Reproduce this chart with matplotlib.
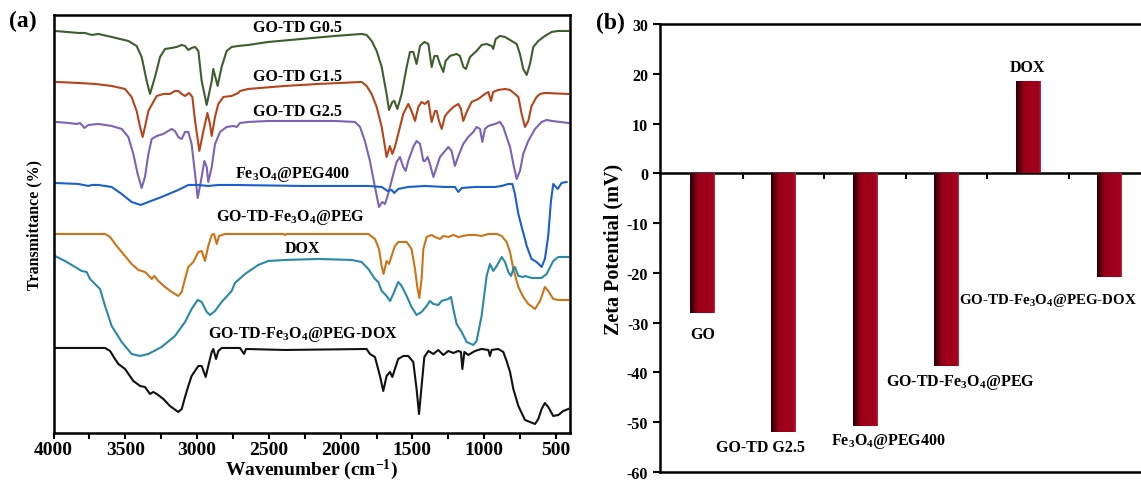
import numpy as np
import matplotlib
matplotlib.use("Agg")
import matplotlib.pyplot as plt
from matplotlib.colors import LinearSegmentedColormap

plt.rcParams['font.family'] = ['Liberation Serif', 'DejaVu Serif']
plt.rcParams['font.weight'] = 'bold'
plt.rcParams['mathtext.fontset'] = 'custom'
plt.rcParams['mathtext.rm'] = 'Liberation Serif:bold'
plt.rcParams['mathtext.it'] = 'Liberation Serif:bold'
plt.rcParams['mathtext.bf'] = 'Liberation Serif:bold'
plt.rcParams['axes.unicode_minus'] = False

# ---- FTIR spectra (wavenumber in cm-1, transmittance in a.u., stacked) ----
g05_wn = [3990, 3827, 3781, 3734, 3688, 3595, 3479, 3421, 3386, 3351, 3328, 3293, 3258, 3223, 3177,
          3142, 3107, 3084, 3061, 3038, 3014, 2991, 2968, 2933, 2898, 2887, 2857, 2829, 2794, 2759,
          2713, 2643, 2504, 2272, 2039, 1854, 1819, 1784, 1749, 1714, 1680, 1663, 1640, 1626, 1605,
          1575, 1540, 1517, 1494, 1471, 1447, 1417, 1389, 1366, 1347, 1327, 1308, 1285, 1269, 1238,
          1192, 1169, 1145, 1127, 1099, 1053, 1018, 983, 948, 937, 920, 890, 855, 809, 774, 751,
          728, 704, 681, 658, 623, 577, 530, 484, 414]
g05_t = [402, 400, 400, 398, 399, 396, 392, 387, 376, 352, 339, 356, 376, 384, 385,
         386, 388, 387, 383, 385, 386, 382, 352, 328, 352, 364, 347, 366, 382, 386,
         387, 388, 391, 394, 397, 399, 398, 392, 382, 366, 339, 323, 331, 332, 324,
         339, 366, 381, 381, 369, 387, 391, 389, 366, 377, 377, 369, 361, 372, 377,
         379, 377, 366, 364, 376, 382, 388, 389, 387, 384, 394, 397, 396, 392, 389, 379,
         364, 358, 369, 386, 392, 397, 401, 402, 402]

g15_wn = [3978, 3827, 3711, 3595, 3502, 3456, 3421, 3397, 3379, 3363, 3339, 3305, 3281, 3235, 3189,
          3154, 3131, 3107, 3084, 3056, 3033, 3014, 2984, 2956, 2928, 2910, 2898, 2875, 2852, 2817,
          2759, 2713, 2701, 2643, 2388, 2156, 1854, 1819, 1784, 1749, 1714, 1691, 1680, 1657, 1640,
          1622, 1599, 1564, 1529, 1506, 1482, 1459, 1436, 1413, 1389, 1366, 1343, 1331, 1315, 1296,
          1273, 1250, 1215, 1180, 1162, 1146, 1122, 1088, 1041, 995, 971, 953, 937, 902, 855, 820,
          786, 762, 739, 716, 693, 670, 635, 611, 577, 414]
g15_t = [351, 350, 349, 347, 344, 336, 322, 306, 296, 306, 322, 331, 337, 339, 339,
         342, 342, 339, 337, 340, 336, 312, 282, 302, 320, 309, 297, 316, 329, 336,
         337, 340, 342, 344, 347, 349, 351, 347, 339, 326, 306, 286, 276, 287, 279,
         286, 299, 319, 329, 322, 312, 326, 331, 329, 332, 311, 322, 322, 312, 304,
         317, 321, 326, 329, 324, 312, 321, 331, 334, 339, 341, 332, 341, 343, 344, 343,
         339, 336, 319, 306, 312, 327, 336, 339, 340, 339]

g25_wn = [3978, 3897, 3839, 3815, 3785, 3757, 3688, 3595, 3525, 3479, 3444, 3414, 3386, 3363, 3339,
          3316, 3281, 3235, 3212, 3177, 3154, 3131, 3107, 3084, 3061, 3038, 3014, 2996, 2973, 2949,
          2933, 2922, 2898, 2875, 2840, 2794, 2748, 2724, 2701, 2643, 2504, 2272, 2039, 1900, 1865,
          1831, 1796, 1761, 1733, 1710, 1691, 1673, 1656, 1633, 1610, 1587, 1564, 1547, 1529, 1494,
          1471, 1447, 1424, 1412, 1394, 1378, 1354, 1331, 1308, 1273, 1250, 1227, 1204, 1180, 1146,
          1111, 1076, 1053, 1029, 1013, 995, 971, 925, 890, 867, 844, 820, 797, 774, 751, 728,
          693, 646, 600, 565, 530, 414]
g25_t = [311, 310, 309, 310, 305, 308, 309, 307, 304, 296, 279, 259, 245, 256, 279,
         294, 297, 299, 301, 304, 302, 296, 294, 301, 301, 289, 259, 235, 252, 272,
         266, 251, 266, 289, 301, 306, 307, 306, 310, 311, 312, 312, 312, 311, 306,
         292, 272, 246, 226, 231, 229, 237, 246, 259, 271, 276, 266, 262, 272, 286,
         292, 289, 272, 272, 276, 269, 256, 266, 276, 282, 286, 282, 267, 277, 289,
         296, 301, 306, 304, 291, 304, 307, 309, 311, 306, 296, 286, 269, 254, 262, 279,
         292, 304, 311, 313, 312, 310]

fe_wn = [3990, 3827, 3757, 3734, 3688, 3595, 3525, 3456, 3393, 3339, 3247, 3131, 3061, 2991, 2922,
         2852, 2736, 2272, 1807, 1714, 1673, 1645, 1626, 1599, 1529, 1412, 1273, 1204, 1180, 1157,
         1064, 925, 878, 832, 804, 786, 762, 739, 716, 704, 670, 635, 600, 577, 554, 535, 519,
         488, 461, 426]
fe_t = [250, 249, 247, 248, 248, 246, 239, 231, 228, 231, 236, 243, 248, 248, 247,
        248, 248, 247, 247, 246, 242, 243, 240, 244, 246, 247, 246, 246, 241, 245,
        246, 246, 247, 249, 249, 239, 219, 206, 194, 187, 174, 171, 166, 174, 197, 232, 249,
        244, 250, 251]

peg_wn = [3990, 3641, 3606, 3560, 3502, 3456, 3409, 3363, 3335, 3316, 3298, 3270, 3223, 3177, 3131,
          3107, 3084, 3061, 3026, 2991, 2968, 2945, 2922, 2898, 2882, 2863, 2847, 2805, 2736, 2399,
          2388, 2376, 1807, 1761, 1733, 1714, 1701, 1680, 1663, 1645, 1622, 1599, 1575, 1540, 1506,
          1482, 1464, 1452, 1436, 1424, 1401, 1366, 1343, 1308, 1285, 1250, 1215, 1180, 1146, 1111,
          1064, 1018, 971, 913, 878, 844, 820, 797, 762, 728, 693, 646, 611, 577, 554, 519, 484, 414]
peg_t = [199, 199, 196, 187, 177, 169, 163, 161, 157, 154, 157, 152, 146, 141, 137,
         141, 154, 166, 171, 181, 182, 172, 187, 198, 199, 189, 197, 199, 199, 199,
         198, 199, 199, 194, 184, 167, 159, 172, 169, 177, 187, 191, 191, 191, 184,
         164, 144, 135, 154, 184, 196, 198, 196, 194, 197, 196, 198, 196, 197, 198,
         198, 197, 199, 199, 197, 191, 181, 164, 146, 136, 129, 124, 132, 146, 142, 134, 133, 133]

dox_wn = [3990, 3920, 3850, 3804, 3769, 3746, 3711, 3676, 3641, 3595, 3525, 3456, 3397, 3339, 3247,
          3154, 3084, 3038, 2996, 2968, 2933, 2910, 2875, 2829, 2759, 2736, 2666, 2574, 2504, 2388,
          2156, 1923, 1854, 1807, 1761, 1738, 1714, 1680, 1656, 1633, 1599, 1575, 1540, 1506, 1471,
          1436, 1401, 1378, 1355, 1320, 1296, 1273, 1250, 1231, 1215, 1192, 1157, 1122, 1076, 1053,
          1018, 983, 960, 937, 913, 878, 855, 832, 813, 797, 786, 762, 728, 716, 670, 600, 565,
          519, 484, 414]
dox_t = [177, 172, 166, 162, 161, 154, 149, 144, 127, 107, 91, 79, 77, 79, 86,
         97, 111, 124, 133, 131, 121, 118, 122, 131, 142, 150, 159, 168, 172, 173,
         174, 173, 171, 164, 154, 151, 142, 137, 132, 139, 151, 147, 137, 126, 118,
         121, 127, 132, 129, 128, 132, 133, 134, 136, 124, 109, 101, 91, 88, 92,
         117, 157, 169, 162, 167, 176, 171, 161, 157, 164, 166, 157, 156, 157, 155, 155, 159,
         172, 176, 176]

mix_wn = [3990, 3641, 3606, 3572, 3548, 3502, 3444, 3397, 3363, 3328, 3305, 3281, 3235, 3189, 3131,
          3107, 3084, 3061, 3038, 2991, 2968, 2940, 2922, 2898, 2887, 2868, 2852, 2829, 2759, 2701,
          2673, 2659, 2388, 1819, 1796, 1761, 1726, 1703, 1680, 1656, 1640, 1622, 1599, 1564, 1529,
          1494, 1471, 1454, 1436, 1417, 1389, 1354, 1320, 1285, 1250, 1215, 1180, 1162, 1152, 1138,
          1111, 1064, 1018, 971, 960, 948, 902, 867, 844, 820, 797, 762, 716, 681, 646, 623, 600,
          577, 554, 519, 484, 449, 414]
mix_t = [85, 85, 82, 74, 69, 64, 52, 47, 46, 39, 41, 39, 34, 27, 21,
         24, 36, 47, 57, 67, 67, 56, 67, 81, 84, 74, 82, 85, 85, 85,
         79, 84, 83, 84, 79, 76, 57, 42, 57, 61, 56, 64, 74, 77, 77,
         71, 44, 19, 47, 76, 82, 79, 83, 78, 82, 80, 82, 81, 64, 81,
         78, 82, 84, 83, 77, 83, 84, 81, 72, 61, 44, 27, 13, 11, 9, 14, 24,
         30, 26, 17, 18, 22, 24]

spectra = [
    (g05_wn, g05_t, '#3f5e2f', 'GO-TD G0.5', 2297, 406),
    (g15_wn, g15_t, '#b5451c', 'GO-TD G1.5', 2297, 357),
    (g25_wn, g25_t, '#7b63b8', 'GO-TD G2.5', 2297, 322),
    (fe_wn, fe_t, '#1b5fcc', 'Fe$_3$O$_4$@PEG400', 2339, 259),
    (peg_wn, peg_t, '#cc7418', 'GO-TD-Fe$_3$O$_4$@PEG', 2353, 216),
    (dox_wn, dox_t, '#2a89a7', 'DOX', 2269, 185),
    (mix_wn, mix_t, '#111111', 'GO-TD-Fe$_3$O$_4$@PEG-DOX', 2262, 99),
]

# ---- Zeta potential ----
samples = ['GO', 'GO-TD G2.5', 'Fe$_3$O$_4$@PEG400', 'GO-TD-Fe$_3$O$_4$@PEG', 'DOX',
           'GO-TD-Fe$_3$O$_4$@PEG-DOX']
zeta = [-28.1, -51.9, -50.8, -38.8, 18.5, -20.9]

fig = plt.figure(figsize=(11.41, 4.85), dpi=100)

# panel (a)
ax1 = fig.add_axes([0.0469, 0.1052, 0.4527, 0.8619])
for wn, t, c, name, lx, ly in spectra:
    ax1.plot(wn, t, color=c, lw=1.5)
    ax1.text(lx, ly, name, ha='center', va='center', fontsize=11.5, fontweight='bold')
ax1.set_xlim(4000, 402)
ax1.set_ylim(0, 418)
ax1.set_xticks([4000, 3500, 3000, 2500, 2000, 1500, 1000, 500])
ax1.set_xticks(np.arange(3750, 400, -500), minor=True)
ax1.set_yticks([])
ax1.tick_params(axis='x', which='both', direction='out', length=4, width=1.5, labelsize=14, pad=2)
for lab in ax1.get_xticklabels():
    lab.set_fontweight('bold')
for s in ax1.spines.values():
    s.set_linewidth(1.8)
ax1.set_xlabel('Wavenumber (cm$^{-1}$)', fontsize=14, fontweight='bold', labelpad=-1)
ax1.set_ylabel('Transmittance (%)', fontsize=11.5, fontweight='bold', labelpad=8)
fig.text(0.008, 0.945, '(a)', fontsize=17, fontweight='bold')

# panel (b)
ax2 = fig.add_axes([0.5784, 0.0247, 0.4216, 0.9238])
x = np.arange(len(samples))
bars = ax2.bar(x, zeta, width=0.30, color='#9e0019', zorder=2)
cmap = LinearSegmentedColormap.from_list('barshade', [(0, '#240006'), (0.32, '#9a0018'),
                                                      (0.92, '#a3001c'), (1, '#b83040')])
grad = np.linspace(0, 1, 256).reshape(1, -1)
for b in bars:
    x0, y0 = b.get_xy()
    w, h = b.get_width(), b.get_height()
    im = ax2.imshow(grad, extent=[x0, x0 + w, min(y0, y0 + h), max(y0, y0 + h)],
                    cmap=cmap, aspect='auto', zorder=3, interpolation='bilinear')
    im.set_clip_path(b)

ax2.set_xlim(-0.52, 5.39)
ax2.set_ylim(-60, 30)
ax2.set_yticks(np.arange(-60, 31, 10))
ax2.set_xticks(np.arange(0.5, 5, 1))
ax2.set_xticklabels([])
ax2.spines['bottom'].set_position(('data', 0))
ax2.spines['right'].set_visible(False)
for s in ax2.spines.values():
    s.set_linewidth(1.8)
ax2.axhline(-60, color='black', lw=1.8, clip_on=False)
ax2.tick_params(axis='x', direction='out', length=4, width=1.5)
ax2.tick_params(axis='y', direction='out', length=5, width=1.5, labelsize=11.5)
for lab in ax2.get_yticklabels():
    lab.set_fontweight('bold')
ax2.set_ylabel('Zeta Potential (mV)', fontsize=14.5, fontweight='bold', labelpad=2)

bar_labels = [
    (0, -32.3, 'center', 11.5),
    (0.71, -55.0, 'center', 11.5),
    (2.29, -53.6, 'center', 11.5),
    (3.17, -41.9, 'center', 11.5),
    (4.0, 21.4, 'center', 11.5),
    (3.15, -25.3, 'left', 10.8),
]
for name, (lx, ly, ha, fs) in zip(samples, bar_labels):
    ax2.text(lx, ly, name, ha=ha, va='center', fontsize=fs, fontweight='bold')
fig.text(0.522, 0.94, '(b)', fontsize=17, fontweight='bold')

fig.savefig('out.png', dpi=100)
